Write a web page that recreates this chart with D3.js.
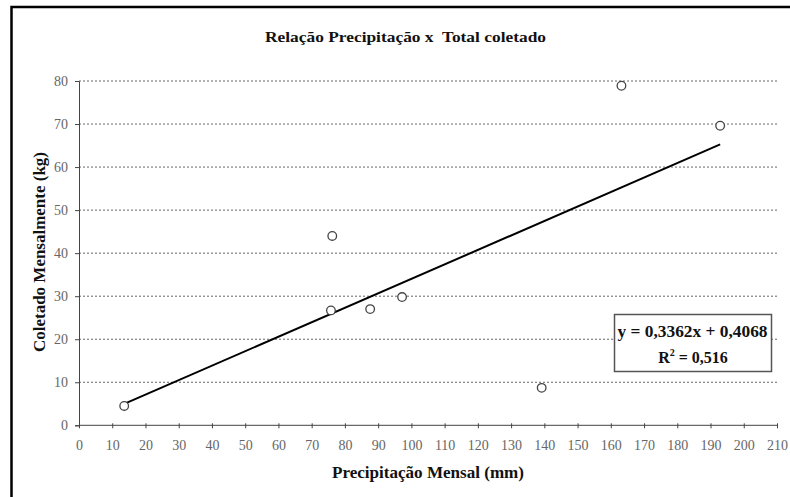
<!DOCTYPE html>
<html>
<head>
<meta charset="utf-8">
<script src="https://cdn.jsdelivr.net/npm/d3@7"></script>
<style>
  html, body { margin: 0; padding: 0; background: #fff; }
  svg { display: block; }
  text { white-space: pre; }
</style>
</head>
<body>
<div id="chart"></div>
<script>
// Monthly precipitation (mm) against monthly collected amount (kg)
const precipitation = [13.6, 75.8, 87.6, 97.2, 76.2, 163.2, 192.9, 139.2];
const collected     = [4.5, 26.7, 27.0, 29.8, 44.0, 78.9, 69.6, 8.7];

// Linear trend line coefficients
const slope = 0.3362;
const intercept = 0.4068;
const rSquared = 0.516;

const xTicks = d3.range(0, 211, 10);
const yTicks = d3.range(0, 81, 10);

const title = "Relação Precipitação x  Total coletado";
const xTitle = "Precipitação Mensal (mm)";
const yTitle = "Coletado Mensalmente (kg)";

const W = 790, H = 497;
const plot = { left: 79, right: 777, top: 81, bottom: 425.3 };

const svg = d3.select("#chart").append("svg")
  .attr("width", W).attr("height", H);

// outer frame
svg.append("rect")
  .attr("x", 11.5).attr("y", 7)
  .attr("width", W + 20).attr("height", H + 20)
  .attr("fill", "#fff").attr("stroke", "#000").attr("stroke-width", 2.5);

const x = d3.scaleLinear().domain([0, 210]).range([plot.left, plot.right]);
const y = d3.scaleLinear().domain([0, 80]).range([plot.bottom, plot.top]);

const serif = "'Liberation Serif', 'Times New Roman', serif";

function boldText(sel, size, len) {
  return sel.style("font-family", serif).style("font-weight", "bold")
    .style("font-size", size + "px").attr("fill", "#111")
    .attr("textLength", len).attr("lengthAdjust", "spacingAndGlyphs");
}

// title
boldText(svg.append("text")
  .attr("x", 405.5).attr("y", 41.7)
  .attr("text-anchor", "middle"), 15, 281)
  .text(title);

// horizontal grid
svg.append("g").selectAll("line")
  .data(yTicks.filter(d => d > 0))
  .join("line")
  .attr("x1", plot.left).attr("x2", plot.right)
  .attr("y1", d => y(d)).attr("y2", d => y(d))
  .attr("stroke", "#666").attr("stroke-width", 1)
  .attr("stroke-dasharray", "2,2");

// y axis
const yAxis = svg.append("g")
  .attr("transform", `translate(${plot.left},0)`)
  .call(d3.axisLeft(y).tickValues(yTicks).tickSize(4).tickPadding(7));
yAxis.select(".domain").attr("stroke", "#444");
yAxis.selectAll(".tick line").attr("stroke", "#444");
yAxis.selectAll(".tick text")
  .style("font-family", serif).style("font-size", "14px").attr("fill", "#666");

// x axis
const xAxis = svg.append("g")
  .attr("transform", `translate(0,${plot.bottom})`)
  .call(d3.axisBottom(x).tickValues(xTicks).tickSize(4).tickPadding(11));
xAxis.select(".domain").attr("stroke", "#444")
  .attr("d", `M${plot.left},0H${plot.right}`);
xAxis.selectAll(".tick line").attr("stroke", "#444").attr("y1", -2).attr("y2", 3);
xAxis.selectAll(".tick text")
  .style("font-family", serif).style("font-size", "14px").attr("fill", "#666");

// axis titles
boldText(svg.append("text")
  .attr("x", 428).attr("y", 478.3)
  .attr("text-anchor", "middle"), 16.5, 192)
  .text(xTitle);

boldText(svg.append("text")
  .attr("transform", "translate(45,252) rotate(-90)")
  .attr("text-anchor", "middle"), 16.5, 200)
  .text(yTitle);

// trend line over the data range
const xMin = d3.min(precipitation), xMax = d3.max(precipitation);
svg.append("line")
  .attr("x1", x(xMin)).attr("y1", y(slope * xMin + intercept))
  .attr("x2", x(xMax)).attr("y2", y(slope * xMax + intercept))
  .attr("stroke", "#000").attr("stroke-width", 2);

// data points
svg.append("g").selectAll("circle")
  .data(precipitation.map((p, i) => [p, collected[i]]))
  .join("circle")
  .attr("cx", d => x(d[0])).attr("cy", d => y(d[1]))
  .attr("r", 4.3)
  .attr("fill", "#fff").attr("stroke", "#444").attr("stroke-width", 1.3);

// equation box
const fmt = v => String(v).replace(".", ",");
const box = svg.append("g");
box.append("rect")
  .attr("x", 614.5).attr("y", 314.5).attr("width", 157).attr("height", 57)
  .attr("fill", "#fff").attr("stroke", "#555").attr("stroke-width", 1.5);
boldText(box.append("text")
  .attr("x", 692.5).attr("y", 337.3)
  .attr("text-anchor", "middle"), 16, 150)
  .text(`y = ${fmt(slope)}x + ${fmt(intercept)}`);
const r2 = box.append("text")
  .attr("x", 693).attr("y", 363.3)
  .attr("text-anchor", "middle")
  .style("font-family", serif).style("font-weight", "bold")
  .style("font-size", "16px").attr("fill", "#111");
r2.append("tspan").text("R");
r2.append("tspan").attr("dy", -7).style("font-size", "10px").text("2");
r2.append("tspan").attr("dy", 7).text(` = ${fmt(rSquared)}`);
</script>
</body>
</html>
